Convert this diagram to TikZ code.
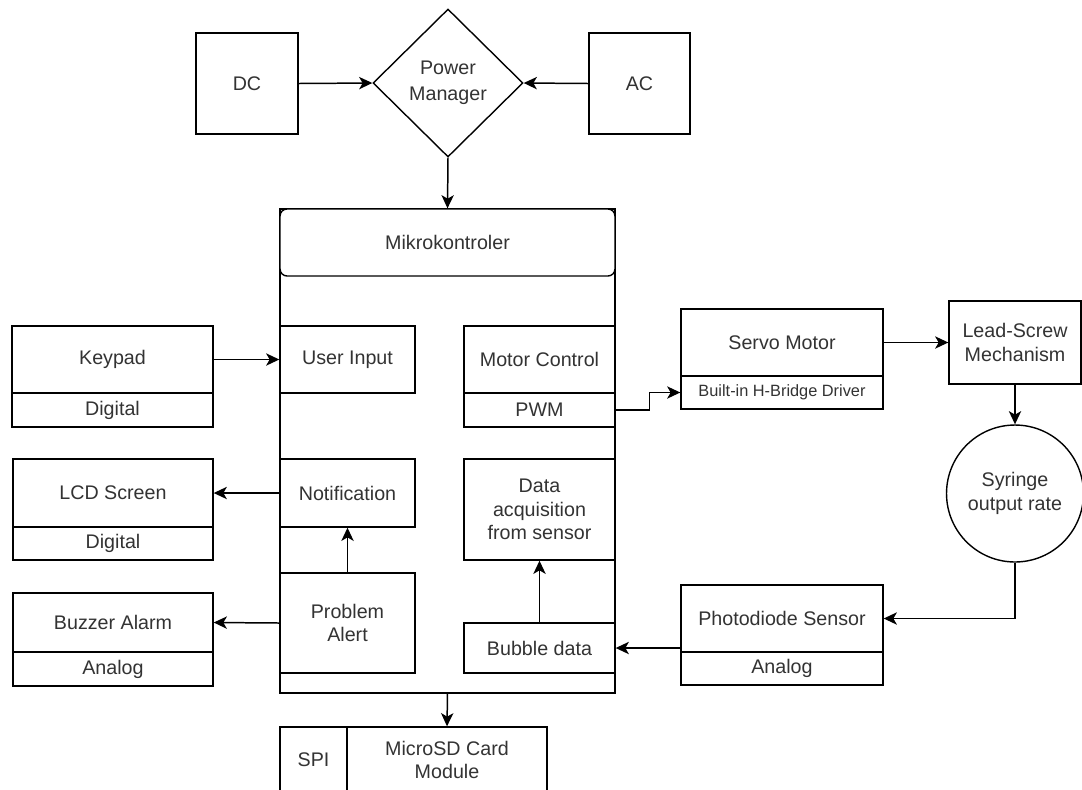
\documentclass[tikz,border=0pt]{standalone}
\usepackage{fontspec}
\setmainfont{Liberation Sans}
\usetikzlibrary{shapes.geometric}
\usetikzlibrary{arrows.meta}
\definecolor{txt}{HTML}{333333}
\tikzset{
blk/.style={draw,line width=0.8pt,fill=white,inner sep=1pt,align=center,text=txt,font=\fontsize{11.2}{13.5}\selectfont},
sml/.style={blk,font=\fontsize{9.3}{11}\selectfont},
arr/.style={line width=0.85pt,-{Stealth[length=7.5pt,width=7pt,inset=2pt]}}
}

\begin{document}
\begin{tikzpicture}[x=0.02cm,y=-0.02cm]
\useasboundingbox (0,0) rectangle (1082,789);
\clip (0,0) rectangle (1082,789);
\node[blk,minimum width=2.04cm,minimum height=2.02cm] (dc) at (247,83.5) {DC};
\node[blk,minimum width=2.02cm,minimum height=2.02cm] (ac) at (639.5,83.5) {AC};
\node[blk,diamond,minimum width=3cm,minimum height=2.96cm,inner sep=0pt,font=\fontsize{11.2}{14.5}\selectfont] (pm) at (448,83) {Power\\Manager};
\node[draw,line width=0.8pt,minimum width=6.7cm,minimum height=9.68cm] (mcu) at (447.5,451) {};
\node[blk,rounded corners=4pt,minimum width=6.7cm,minimum height=1.34cm] (mcuhead) at (447.5,242.5) {Mikrokontroler};
\node[blk,minimum width=4.02cm,minimum height=1.34cm] (keypad) at (112.5,359.5) {Keypad};
\node[blk,minimum width=4.02cm,minimum height=0.68cm] (keypadio) at (112.5,410) {Digital};
\node[blk,minimum width=2.7cm,minimum height=1.34cm] (userin) at (347.5,359.5) {User Input};
\node[blk,minimum width=3.02cm,minimum height=1.34cm] (motor) at (539.5,359.5) {Motor Control};
\node[blk,minimum width=3.02cm,minimum height=0.68cm] (pwm) at (539.5,410) {PWM};
\node[blk,minimum width=4.04cm,minimum height=1.34cm] (servo) at (782,342.5) {Servo Motor};
\node[sml,minimum width=4.04cm,minimum height=0.66cm] (hbridge) at (782,392.5) {Built-in H-Bridge Driver};
\node[blk,minimum width=2.64cm,minimum height=1.66cm] (lead) at (1015,342.5) {Lead-Screw\\Mechanism};
\node[blk,circle,minimum size=2.74cm,inner sep=0pt] (syringe) at (1015,493.5) {Syringe\\output rate};
\node[blk,minimum width=4.0cm,minimum height=1.36cm] (lcd) at (113,493) {LCD Screen};
\node[blk,minimum width=4.0cm,minimum height=0.66cm] (lcdio) at (113,543.5) {Digital};
\node[blk,minimum width=2.7cm,minimum height=1.36cm] (notif) at (347.5,493) {Notification};
\node[blk,minimum width=3.02cm,minimum height=2.02cm] (dataacq) at (539.5,509.5) {Data\\acquisition\\from sensor};
\node[blk,minimum width=4.0cm,minimum height=1.18cm] (buzzer) at (113,622.5) {Buzzer Alarm};
\node[blk,minimum width=4.0cm,minimum height=0.68cm] (buzzerio) at (113,669) {Analog};
\node[blk,minimum width=2.7cm,minimum height=2cm] (alert) at (347.5,623) {Problem\\Alert};
\node[blk,minimum width=3.02cm,minimum height=1cm] (bubble) at (539.5,648) {Bubble data};
\node[blk,minimum width=4.04cm,minimum height=1.34cm] (photo) at (782,618.5) {Photodiode Sensor};
\node[blk,minimum width=4.04cm,minimum height=0.66cm] (photoio) at (782,668.5) {Analog};
\node[blk,minimum width=4cm,minimum height=1.32cm] (sd) at (447,760) {MicroSD Card\\Module};
\node[blk,minimum width=1.34cm,minimum height=1.32cm] (spi) at (313.5,760) {SPI};

\draw[arr] (dc.east) -- (pm.west);
\draw[arr] (ac.west) -- (pm.east);
\draw[arr] (pm.south) -- (mcu.north);
\draw[arr] (keypad.east) -- (userin.west);
\draw[arr] (notif.west) -- (lcd.east);
\draw[arr] (alert.west) -- (buzzer.east);
\draw[arr] (alert.north) -- (notif.south);
\draw[arr] (bubble.north) -- (dataacq.south);
\draw[arr] (pwm.east) -- ++(34,0) |- (hbridge.west);
\draw[arr] (servo.east) -- (lead.west);
\draw[arr] (lead.south) -- (syringe.north);
\draw[arr] (syringe.south) |- (photo.east);
\draw[arr] (photo.west |- bubble.east) -- (bubble.east);
\draw[arr] (mcu.south) -- (sd.north);

\end{tikzpicture}
\end{document}
